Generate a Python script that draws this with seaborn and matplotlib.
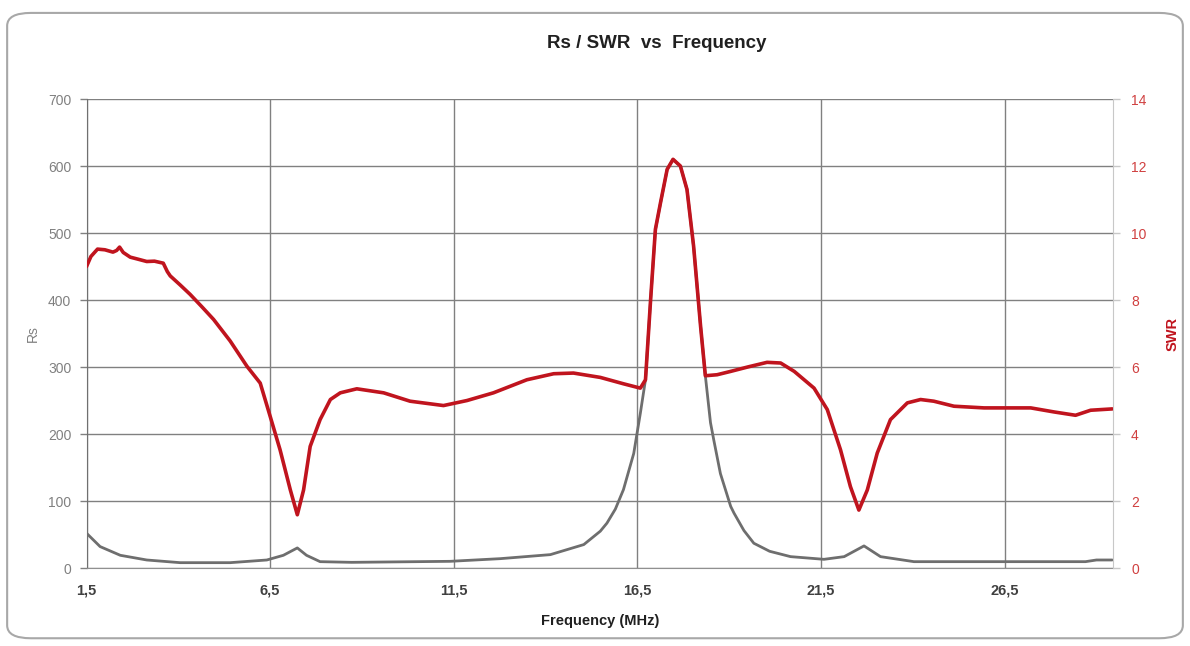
import numpy as np
import pandas as pd
import matplotlib
matplotlib.use("Agg")
import matplotlib.pyplot as plt
from matplotlib.patches import FancyBboxPatch
import seaborn as sns

# ---------------------------------------------------------
# data
# ---------------------------------------------------------
freq_swr = [1.50, 1.62, 1.80, 2.00, 2.22, 2.32, 2.40, 2.50, 2.69, 2.90, 3.14, 3.35,
            3.59, 3.70, 3.78, 4.05, 4.32, 4.64, 4.96, 5.41, 5.87, 6.23, 6.50, 6.77,
            7.05, 7.24, 7.41, 7.59, 7.86, 8.14, 8.41, 8.86, 9.59, 10.31, 11.22, 11.86,
            12.58, 13.49, 14.22, 14.76, 15.49, 16.12, 16.58, 16.72, 16.86, 16.99, 17.13,
            17.31, 17.47, 17.67, 17.85, 18.03, 18.22, 18.35, 18.67, 19.04, 19.50, 20.03,
            20.40, 20.77, 21.31, 21.67, 22.03, 22.30, 22.53, 22.76, 23.03, 23.39, 23.85,
            24.21, 24.57, 25.12, 25.94, 27.21, 27.84, 28.43, 28.84, 29.43]
swr = [9.00, 9.30, 9.52, 9.50, 9.43, 9.48, 9.58, 9.42, 9.28, 9.22, 9.15, 9.16,
       9.10, 8.85, 8.72, 8.45, 8.17, 7.80, 7.42, 6.78, 6.02, 5.52, 4.53, 3.53,
       2.33, 1.59, 2.33, 3.63, 4.43, 5.03, 5.23, 5.35, 5.23, 4.98, 4.85, 5.00,
       5.23, 5.62, 5.80, 5.82, 5.69, 5.50, 5.37, 5.62, 8.02, 10.11, 10.91,
       11.90, 12.20, 12.00, 11.30, 9.61, 7.22, 5.74, 5.77, 5.87, 6.00, 6.14,
       6.12, 5.87, 5.37, 4.73, 3.53, 2.43, 1.73, 2.33, 3.43, 4.43, 4.93,
       5.03, 4.98, 4.83, 4.78, 4.78, 4.66, 4.56, 4.71, 4.75]

freq_rs = [1.50, 1.87, 2.42, 3.14, 4.05, 5.41, 6.41, 6.86, 7.24, 7.49, 7.86, 8.72,
           11.40, 12.77, 14.13, 15.04, 15.49, 15.67, 15.90, 16.12, 16.40, 16.58, 16.72,
           16.86, 16.99, 17.13, 17.31, 17.47, 17.67, 17.85, 18.03, 18.22, 18.35, 18.49,
           18.58, 18.76, 19.04, 19.13, 19.40, 19.67, 20.10, 20.67, 21.58, 22.13, 22.67,
           23.12, 24.03, 28.70, 29.00, 29.43]
rs = [52, 32, 19, 12, 8, 8, 12, 19, 30, 19, 9.5, 8.5,
      10, 14, 20, 35, 55, 67, 88, 117, 171, 231, 281,
      401, 505, 545, 595, 610, 600, 565, 480, 361, 287, 217,
      191, 141, 92, 82, 56, 37, 25, 17, 13, 17, 33,
      17, 9.5, 9.5, 12, 12]

x_ticks = [1.5, 6.5, 11.5, 16.5, 21.5, 26.5]
x_tick_labels = ["1,5", "6,5", "11,5", "16,5", "21,5", "26,5"]
rs_ticks = [0, 100, 200, 300, 400, 500, 600, 700]
swr_ticks = [0, 2, 4, 6, 8, 10, 12, 14]

# ---------------------------------------------------------
# plot
# ---------------------------------------------------------
sns.set_style("white")
plt.rcParams["font.family"] = ["Liberation Sans", "DejaVu Sans"]

RED = "#C0141E"
GREY = "#6E6E6E"
GRID = "#808080"

df_rs = pd.DataFrame({"freq": freq_rs, "rs": rs})
df_swr = pd.DataFrame({"freq": freq_swr, "swr": swr})

fig = plt.figure(figsize=(11.9, 6.46), dpi=100)
ax = fig.add_axes([0.0727, 0.1207, 0.8626, 0.7260])
ax2 = ax.twinx()

sns.lineplot(data=df_rs, x="freq", y="rs", ax=ax, color=GREY, linewidth=2.0, zorder=3)
sns.lineplot(data=df_swr, x="freq", y="swr", ax=ax2, color=RED, linewidth=2.6, zorder=4)

ax.set_xlim(1.5, 29.45)
ax.set_ylim(0, 700)
ax2.set_ylim(0, 14)

ax.set_xticks(x_ticks)
ax.set_xticklabels(x_tick_labels, fontsize=10.5, fontweight="bold", color="#404040")
ax.set_yticks(rs_ticks)
ax.set_yticklabels([str(v) for v in rs_ticks], fontsize=10, color="#808080")
ax2.set_yticks(swr_ticks)
ax2.set_yticklabels([str(v) for v in swr_ticks], fontsize=10, color="#D04040")

ax.grid(True, color=GRID, linewidth=1.0)
ax.set_axisbelow(True)
ax.tick_params(axis="both", direction="out", length=5, width=1, color=GRID, pad=6)
ax2.tick_params(axis="y", direction="out", length=5, width=1, color="#C8C8C8", pad=8)

ax.spines["top"].set_visible(False)
ax2.spines["top"].set_visible(False)
ax.spines["left"].set_color("#707070")
ax.spines["bottom"].set_color("#909090")
ax.spines["right"].set_visible(False)
ax2.spines["left"].set_visible(False)
ax2.spines["bottom"].set_visible(False)
ax2.spines["right"].set_color("#C8C8C8")

ax.set_xlabel("Frequency (MHz)", fontsize=10.5, fontweight="bold", color="#202020", labelpad=12)
ax.set_ylabel("Rs", fontsize=10, color="#808080", labelpad=6)
ax2.set_ylabel("SWR", fontsize=10.5, fontweight="bold", color=RED, labelpad=14)

fig.text(0.552, 0.933, "Rs / SWR  vs  Frequency", ha="center", va="center",
         fontsize=13.5, fontweight="bold", color="#202020")

# rounded chart frame like the spreadsheet export
frame = FancyBboxPatch((0.006, 0.012), 0.988, 0.968, boxstyle="round,pad=0,rounding_size=0.02",
                       transform=fig.transFigure, facecolor="none", edgecolor="#A8A8A8",
                       linewidth=1.5, zorder=0)
fig.patches.append(frame)

fig.savefig("out.png", dpi=100)
